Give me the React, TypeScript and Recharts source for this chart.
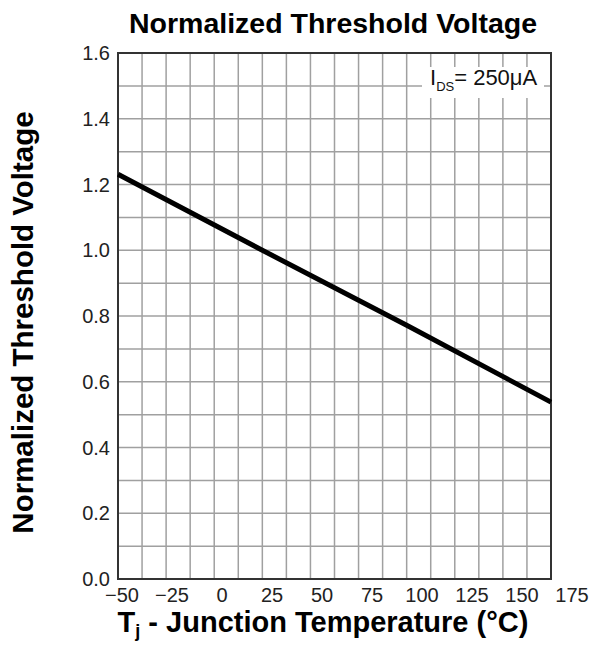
import React from "react";
import { CartesianGrid, Line, LineChart, ReferenceArea, XAxis, YAxis } from "recharts";

// values
const temps = [-50, 25, 100, 175];
const vthNorm = [1.231, 1.0, 0.772, 0.538];

// grid: 18 columns, 16 rows
const gridTemps = [-50, -37.5, -25, -12.5, 0, 12.5, 25, 37.5, 50, 62.5, 75, 87.5, 100, 112.5, 125, 137.5, 150, 162.5, 175];
const gridVolts = [0, 0.1, 0.2, 0.3, 0.4, 0.5, 0.6, 0.7, 0.8, 0.9, 1.0, 1.1, 1.2, 1.3, 1.4, 1.5, 1.6];

// tick labels (the printed temperature labels sit on their own, slightly wider scale)
const tempLabels = [-50, -25, 0, 25, 50, 75, 100, 125, 150, 175];
const voltLabels = [0, 0.2, 0.4, 0.6, 0.8, 1.0, 1.2, 1.4, 1.6];

const data = temps.map((t, i) => ({ t, v: vthNorm[i] }));

const FONT = '"Liberation Sans", Arial, Helvetica, sans-serif';
const tickStyle = { fontSize: 20, fill: "#222", fontFamily: FONT };

export default function App() {
  return (
    <div style={{ position: "absolute", left: 0, top: 0, width: 602, height: 645, fontFamily: FONT }}>
      <LineChart width={602} height={645} data={data} margin={{ top: 53, right: 51, left: 68, bottom: 36 }}>
        <CartesianGrid xAxisId="t" yAxisId="v" stroke="#a0a0a0" strokeWidth={1.5} />
        <XAxis
          xAxisId="t"
          dataKey="t"
          type="number"
          domain={[-50, 175]}
          ticks={gridTemps}
          interval={0}
          tick={{ fill: "none", fontSize: 1 }}
          tickFormatter={() => ""}
          tickSize={0}
          axisLine={false}
          height={0}
        />
        <XAxis
          xAxisId="lbl"
          dataKey="t"
          type="number"
          domain={[-52, 164.5]}
          allowDataOverflow
          ticks={tempLabels}
          interval={0}
          tickSize={0}
          tickMargin={9}
          axisLine={false}
          tick={tickStyle}
          tickFormatter={(v: number) => String(v).replace("-", "\u2212")}
          height={30}
        />
        <YAxis
          yAxisId="v"
          type="number"
          domain={[0, 1.6]}
          ticks={gridVolts}
          interval={0}
          tickSize={0}
          tickMargin={8}
          axisLine={false}
          tick={tickStyle}
          tickFormatter={(v: number) => (voltLabels.includes(v) ? v.toFixed(1) : "")}
          width={50}
        />
        <ReferenceArea
          xAxisId="t"
          yAxisId="v"
          x1={-50}
          x2={175}
          y1={0}
          y2={1.6}
          fill="none"
          stroke="#333"
          strokeWidth={2}
          ifOverflow="visible"
        />
        {/* invisible carrier so the label axis gets a series */}
        <Line
          xAxisId="lbl"
          yAxisId="v"
          type="linear"
          dataKey="v"
          stroke="none"
          dot={false}
          activeDot={false}
          isAnimationActive={false}
        />
        <Line
          xAxisId="t"
          yAxisId="v"
          type="linear"
          dataKey="v"
          stroke="#000"
          strokeWidth={5}
          dot={false}
          activeDot={false}
          isAnimationActive={false}
        />
      </LineChart>
      <svg
        width={602}
        height={645}
        style={{ position: "absolute", left: 0, top: 0, pointerEvents: "none" }}
        fontFamily={FONT}
      >
        <text x={333} y={33} textAnchor="middle" fontSize={28.5} fontWeight="bold" fill="#000">
          Normalized Threshold Voltage
        </text>
        <text x={323} y={632} textAnchor="middle" fontSize={29} fontWeight="bold" fill="#000">
          T
          <tspan fontSize={18} dy={5}>j</tspan>
          <tspan dy={-5}> - Junction Temperature (°C)</tspan>
        </text>
        <text
          transform="translate(33,322.5) rotate(-90)"
          textAnchor="middle"
          fontSize={29.5}
          fontWeight="bold"
          fill="#000"
        >
          Normalized Threshold Voltage
        </text>
        <rect x={422} y={67} width={122} height={31} fill="#fff" />
        <text x={430} y={85} fontSize={22} fill="#111">
          I
          <tspan fontSize={13} dy={6}>DS</tspan>
          <tspan dy={-6}>= 250μA</tspan>
        </text>
      </svg>
    </div>
  );
}
